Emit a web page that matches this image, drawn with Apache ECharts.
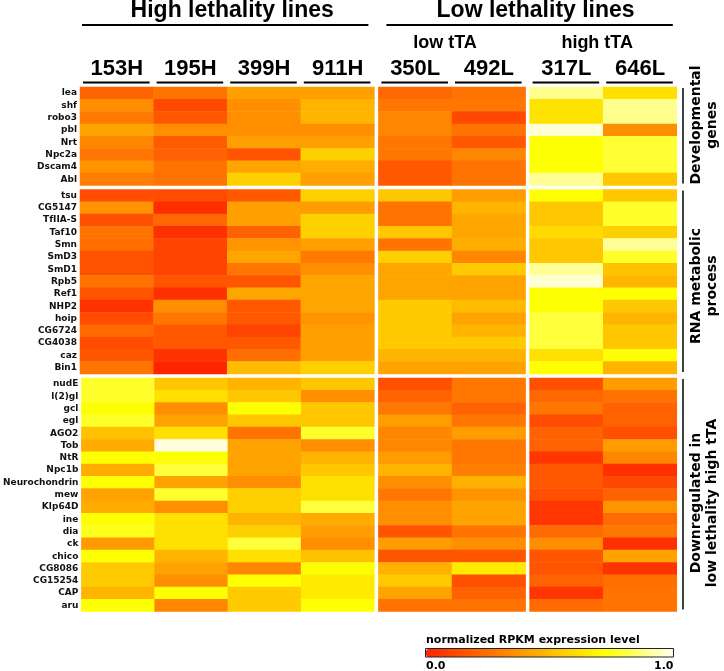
<!DOCTYPE html>
<html>
<head>
<meta charset="utf-8">
<script src="https://cdn.jsdelivr.net/npm/echarts@6/dist/echarts.min.js"></script>
<style>html,body{margin:0;padding:0;background:#fff}#c{width:724px;height:671px}</style>
</head>
<body>
<div id="c"></div>
<script>
// ---------- data ----------
const samples = ['153H','195H','399H','911H','350L','492L','317L','646L'];
const lineGroups = ['High lethality lines','Low lethality lines'];
const tTAGroups = ['low tTA','high tTA'];
const geneGroupNames = ['Developmental\ngenes','RNA metabolic\nprocess','Downregulated in\nlow lethality high tTA'];

const devGenes = ['lea','shf','robo3','pbl','Nrt','Npc2a','Dscam4','Abl'];
const devValues = [
  [0.20,0.26,0.41,0.41,0.22,0.26,0.89,0.62],
  [0.35,0.12,0.35,0.48,0.27,0.27,0.63,0.89],
  [0.28,0.17,0.35,0.48,0.32,0.12,0.63,0.89],
  [0.42,0.35,0.35,0.35,0.32,0.26,0.97,0.35],
  [0.32,0.18,0.41,0.41,0.27,0.17,0.72,0.78],
  [0.27,0.20,0.16,0.57,0.27,0.32,0.72,0.78],
  [0.37,0.26,0.43,0.46,0.17,0.26,0.72,0.78],
  [0.29,0.26,0.57,0.41,0.17,0.26,0.90,0.54]
];

const rnaGenes = ['tsu','CG5147','TfIIA-S','Taf10','Smn','SmD3','SmD1','Rpb5','Ref1','NHP2','hoip','CG6724','CG4038','caz','Bin1'];
const rnaValues = [
  [0.13,0.13,0.17,0.57,0.54,0.40,0.72,0.54],
  [0.37,0.03,0.41,0.40,0.26,0.48,0.54,0.77],
  [0.14,0.22,0.41,0.57,0.26,0.43,0.54,0.77],
  [0.26,0.04,0.20,0.57,0.54,0.43,0.60,0.57],
  [0.24,0.10,0.37,0.41,0.26,0.46,0.54,0.90],
  [0.15,0.10,0.43,0.28,0.57,0.32,0.54,0.77],
  [0.15,0.10,0.27,0.35,0.43,0.55,0.90,0.53],
  [0.26,0.16,0.16,0.43,0.43,0.42,0.97,0.48],
  [0.16,0.04,0.43,0.43,0.43,0.42,0.72,0.72],
  [0.05,0.35,0.17,0.43,0.55,0.50,0.72,0.54],
  [0.13,0.27,0.17,0.37,0.55,0.42,0.79,0.48],
  [0.23,0.17,0.10,0.41,0.55,0.48,0.79,0.54],
  [0.13,0.17,0.17,0.41,0.55,0.55,0.79,0.54],
  [0.16,0.05,0.24,0.41,0.48,0.48,0.62,0.72],
  [0.26,0.00,0.50,0.57,0.42,0.42,0.72,0.48]
];

const downGenes = ['nudE','l(2)gl','gcl','egl','AGO2','Tob','NtR','Npc1b','Neurochondrin','mew','Klp64D','ine','dia','ck','chico','CG8086','CG15254','CAP','aru'];
const downValues = [
  [0.77,0.54,0.48,0.54,0.14,0.27,0.14,0.40],
  [0.77,0.62,0.54,0.35,0.20,0.27,0.22,0.26],
  [0.72,0.35,0.72,0.54,0.27,0.20,0.27,0.20],
  [0.77,0.42,0.54,0.54,0.40,0.27,0.13,0.20],
  [0.52,0.62,0.26,0.77,0.32,0.40,0.20,0.14],
  [0.45,0.98,0.42,0.35,0.32,0.27,0.20,0.40],
  [0.72,0.72,0.42,0.48,0.40,0.27,0.06,0.32],
  [0.45,0.79,0.42,0.54,0.48,0.30,0.17,0.04],
  [0.72,0.42,0.35,0.62,0.35,0.47,0.17,0.12],
  [0.42,0.77,0.57,0.62,0.27,0.37,0.14,0.20],
  [0.45,0.35,0.57,0.79,0.35,0.42,0.06,0.37],
  [0.72,0.62,0.48,0.45,0.35,0.42,0.06,0.23],
  [0.75,0.62,0.57,0.40,0.16,0.26,0.23,0.27],
  [0.39,0.62,0.79,0.35,0.40,0.35,0.35,0.04],
  [0.72,0.48,0.62,0.52,0.16,0.16,0.16,0.42],
  [0.55,0.42,0.32,0.72,0.47,0.65,0.16,0.05],
  [0.55,0.35,0.72,0.65,0.55,0.14,0.20,0.24],
  [0.48,0.72,0.55,0.65,0.42,0.20,0.06,0.26],
  [0.72,0.32,0.55,0.72,0.26,0.26,0.23,0.26]
];

const scaleTicks = ['0.0','1.0'];
const scaleTitle = 'normalized RPKM expression level';

// ---------- layout ----------
const rowGenes = [devGenes, rnaGenes, downGenes];
const rowValues = [devValues, rnaValues, downValues];
const colSplits = [[0,4],[4,6],[6,8]];
const left0 = 80, top0 = 87, cellW = 73.6, cellH = 12.3, gap = 4;

const gridLefts = []; { let x = left0; colSplits.forEach(s => { gridLefts.push(x); x += (s[1]-s[0])*cellW + gap; }); }
const gridTops = []; { let y = top0; rowGenes.forEach(g => { gridTops.push(y); y += g.length*cellH + gap; }); }

const grids = [], xAxes = [], yAxes = [], series = [];
const labelFont = 'DejaVu Sans';
rowGenes.forEach((genes, gi) => {
  colSplits.forEach((s, ci) => {
    const idx = grids.length;
    const nCols = s[1]-s[0];
    grids.push({left: gridLefts[ci], top: gridTops[gi], width: nCols*cellW, height: genes.length*cellH, containLabel: false});
    xAxes.push({
      type: 'category', gridIndex: idx, data: samples.slice(s[0], s[1]),
      position: 'top', axisLine: {show: false}, axisTick: {show: false}, splitLine: {show: false},
      axisLabel: {show: gi === 0, margin: 7, color: '#000', fontSize: 22, fontWeight: 'bold', fontFamily: 'Liberation Sans'}
    });
    yAxes.push({
      type: 'category', gridIndex: idx, data: genes, inverse: true,
      axisLine: {show: false}, axisTick: {show: false}, splitLine: {show: false},
      axisLabel: {show: ci === 0, margin: 3, color: '#111', fontSize: 9, fontWeight: 'bold', fontFamily: labelFont}
    });
    const data = [];
    genes.forEach((g, r) => {
      for (let c = s[0]; c < s[1]; c++) data.push([c - s[0], r, rowValues[gi][r][c]]);
    });
    series.push({type: 'heatmap', xAxisIndex: idx, yAxisIndex: idx, data: data,
      itemStyle: {borderWidth: 0}, emphasis: {disabled: true}, silent: true, progressive: 0});
  });
});

// ---------- decorations ----------
const graphics = [];
function txt(x, y, text, size, opts) {
  opts = opts || {};
  graphics.push({type: 'text', x: x, y: y, rotation: opts.rotation || 0, silent: true,
    style: {text: text, fill: '#000', fontSize: size, fontWeight: 'bold', fontFamily: opts.family || 'Liberation Sans',
      align: opts.align || 'center', verticalAlign: 'middle', textAlign: opts.align || 'center', textVerticalAlign: 'middle',
      lineHeight: opts.lineHeight || size}});
}
function line(x1, y1, x2, y2, w) {
  graphics.push({type: 'line', silent: true, shape: {x1: x1, y1: y1, x2: x2, y2: y2}, style: {stroke: '#000', lineWidth: w}});
}
const gridRight = gridLefts[2] + 2*cellW;
const highCenter = left0 + 2*cellW, lowCenter = (gridLefts[1] + gridRight)/2;
txt(highCenter + 5, 11, lineGroups[0], 23);
txt(lowCenter + 8, 11, lineGroups[1], 23);
line(left0 + 2, 25, gridLefts[0] + 4*cellW - 6, 25, 2);
line(gridLefts[1] + 8, 25, gridRight - 4, 25, 2);
txt(gridLefts[1] + cellW - 7, 43, tTAGroups[0], 18);
txt(gridLefts[2] + cellW - 6, 43, tTAGroups[1], 18);
// column underlines
colSplits.forEach((s, ci) => {
  for (let c = 0; c < s[1]-s[0]; c++) {
    const x = gridLefts[ci] + c*cellW;
    line(x + 3, 82.5, x + cellW - 4, 82.5, 2);
  }
});
// right-side group labels and brackets
const groupCenters = [125, 286, 503];
rowGenes.forEach((g, gi) => {
  const t = gridTops[gi], b = t + g.length*cellH;
  line(683, t + 1, 683, b - 2, 1.5);
  txt(704, groupCenters[gi], geneGroupNames[gi], 14, {rotation: Math.PI/2, family: 'DejaVu Sans', lineHeight: 16});
});
// colour scale
graphics.push({type: 'rect', silent: true, z: 100, shape: {x: 425.5, y: 648.5, width: 248, height: 8.5}, style: {fill: 'none', stroke: '#222', lineWidth: 1}});
txt(426, 640, scaleTitle, 11, {align: 'left', family: 'DejaVu Sans'});
txt(426, 666, scaleTicks[0], 11, {align: 'left', family: 'DejaVu Sans'});
txt(673.5, 666, scaleTicks[1], 11, {align: 'right', family: 'DejaVu Sans'});

const chart = echarts.init(document.getElementById('c'), null, {renderer: 'canvas'});
chart.setOption({
  backgroundColor: '#fff',
  animation: false,
  grid: grids, xAxis: xAxes, yAxis: yAxes, series: series,
  visualMap: {
    type: 'continuous', min: 0, max: 1, orient: 'horizontal', left: 426, top: 649,
    itemWidth: 8, itemHeight: 247, calculable: false, padding: 0, text: null, showLabel: false,
    inRange: {color: ['#ff2400','#ff5000','#ff7c00','#ffa500','#ffd000','#ffff00','#ffff70','#fffff0']}
  },
  graphic: graphics
});
</script>
</body>
</html>
